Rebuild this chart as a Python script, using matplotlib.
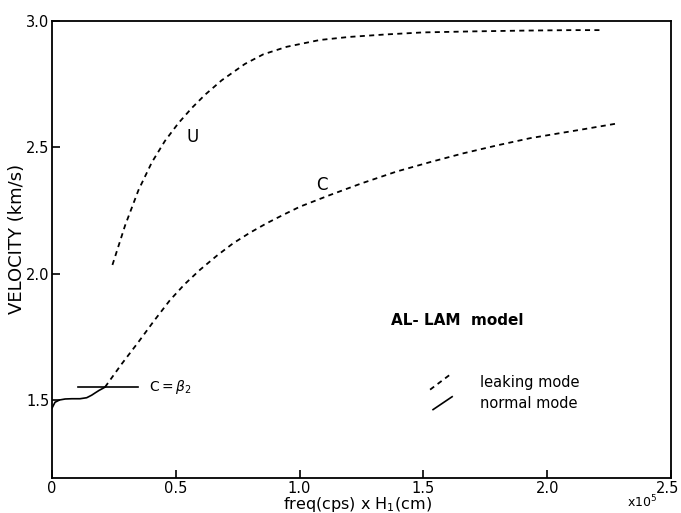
import matplotlib
matplotlib.use("Agg")
import matplotlib.pyplot as plt
import matplotlib.transforms as mtransforms
from matplotlib.lines import Line2D

# Group velocity U (leaking mode)
u_freq = [0.244, 0.295, 0.349, 0.403, 0.456, 0.510, 0.564, 0.618, 0.685, 0.779, 0.853, 0.948,
          1.082, 1.2, 1.35, 1.5, 1.7, 1.9, 2.1, 2.225]
u_vel = [2.034, 2.19, 2.33, 2.44, 2.525, 2.595, 2.655, 2.708, 2.765, 2.830, 2.868, 2.898,
         2.925, 2.937, 2.947, 2.955, 2.959, 2.962, 2.964, 2.964]

# Phase velocity C (leaking mode)
c_freq = [0.214, 0.28, 0.35, 0.41, 0.476, 0.535, 0.598, 0.665, 0.732, 0.80, 0.867, 0.935,
          1.002, 1.123, 1.25, 1.392, 1.53, 1.661, 1.8, 1.931, 2.04, 2.132, 2.287]
c_vel = [1.55, 1.64, 1.73, 1.81, 1.894, 1.957, 2.015, 2.07, 2.12, 2.162, 2.199, 2.233,
         2.265, 2.311, 2.357, 2.404, 2.442, 2.476, 2.508, 2.536, 2.554, 2.569, 2.595]

# Normal mode (solid)
n_freq = [0.0, 0.012, 0.03, 0.053, 0.08, 0.113, 0.14, 0.16, 0.174, 0.19, 0.207, 0.214]
n_vel = [1.467, 1.49, 1.499, 1.503, 1.504, 1.504, 1.508, 1.518, 1.527, 1.537, 1.546, 1.55]

# C = beta2 reference line
beta2_freq = [0.104, 0.349]
beta2_vel = [1.55, 1.55]

x_ticks = [0, 0.5, 1.0, 1.5, 2.0, 2.5]
x_ticklabels = ["0", "0.5", "1.0", "1.5", "2.0", "2.5"]
y_ticks = [1.5, 2.0, 2.5, 3.0]
y_ticklabels = ["1.5", "2.0", "2.5", "3.0"]

plt.rcParams['font.family'] = ['DejaVu Sans']

fig = plt.figure(figsize=(6.81, 5.13), dpi=100)
ax = fig.add_axes([0.0764, 0.0682, 0.9089, 0.8908])

dash = (2.8, 2.4)
ax.plot(u_freq, u_vel, color='black', lw=1.3, linestyle=(0, dash))
ax.plot(c_freq, c_vel, color='black', lw=1.3, linestyle=(0, dash))
ax.plot(n_freq, n_vel, color='black', lw=1.2)
ax.plot(beta2_freq, beta2_vel, color='black', lw=1.2)

ax.set_xlim(0, 2.5)
ax.set_ylim(1.19, 3.0)
ax.set_xticks(x_ticks)
ax.set_xticklabels(x_ticklabels)
ax.set_yticks(y_ticks)
ax.set_yticklabels(y_ticklabels)
ax.tick_params(direction='in', length=6, width=1.2, labelsize=10.5)
ax.tick_params(axis='x', pad=2)
ax.tick_params(axis='y', pad=2)
for s in ax.spines.values():
    s.set_linewidth(1.3)

# nudge the last x tick label so it stays inside the figure
last = ax.get_xticklabels()[-1]
last.set_transform(last.get_transform() + mtransforms.ScaledTranslation(-3 / 100, 0, fig.dpi_scale_trans))

fig.text(357 / 681, 1 - 505 / 513, "freq(cps) x H$_1$(cm)", fontsize=11.5,
         ha='center', va='center')
fig.text(17 / 681, 1 - 239 / 513, "VELOCITY (km/s)", fontsize=13,
         ha='center', va='center', rotation=90)
fig.text(627 / 681, 1 - 510 / 513, "x10$^5$", fontsize=9, ha='left', va='bottom')

ax.text(0.568, 2.542, "U", fontsize=12, ha='center', va='center')
ax.text(1.089, 2.351, "C", fontsize=12, ha='center', va='center')
ax.text(0.39, 1.55, r"C$=\beta_2$", fontsize=10, ha='left', va='center')
ax.text(1.37, 1.813, "AL- LAM  model", fontsize=11, ha='left', va='center', fontweight='bold')

# legend glyphs
ax.add_line(Line2D([1.527, 1.607], [1.540, 1.599], color='black', lw=1.3, linestyle=(0, dash)))
ax.add_line(Line2D([1.539, 1.616], [1.461, 1.512], color='black', lw=1.2))
ax.text(1.729, 1.5675, "leaking mode", fontsize=10.5, ha='left', va='center')
ax.text(1.729, 1.4844, "normal mode", fontsize=10.5, ha='left', va='center')

fig.savefig("out.png", dpi=100)
